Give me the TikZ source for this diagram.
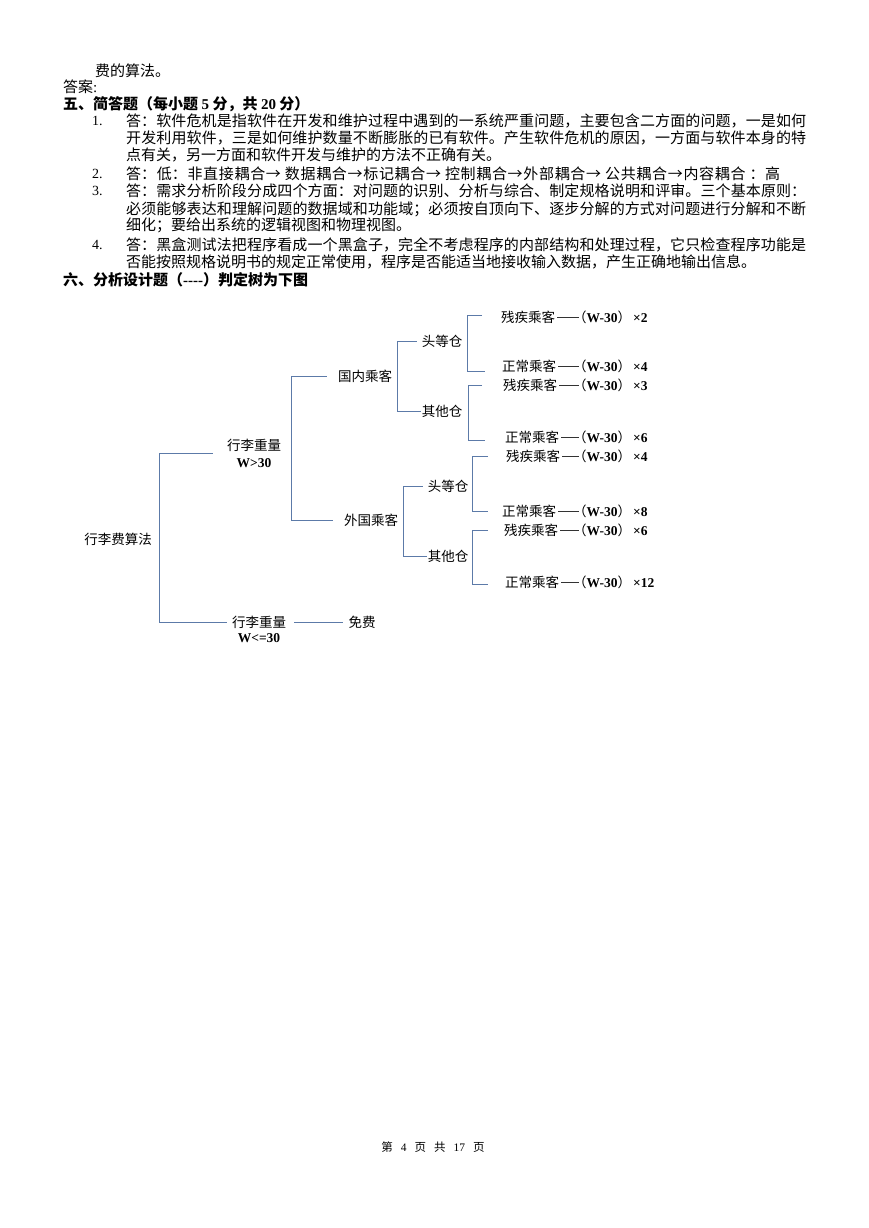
\documentclass[tikz,border=0pt]{standalone}
\usepackage{fontspec}
\setmainfont{Liberation Serif}
\newfontfamily\cjk{Noto Sans CJK SC}
\XeTeXlinebreaklocale "zh"
\XeTeXlinebreakskip=0pt plus 2pt
\definecolor{brc}{RGB}{92,122,168}
\newcommand\jl[1]{{\parfillskip=0pt\tolerance=10000 #1\par}}
\newcommand\resv[1]{（{\rmfamily\bfseries W-30}）\hspace{2pt}{\rmfamily\bfseries ×#1}}
\tikzset{
  body/.style={anchor=west,inner sep=0pt,font=\cjk\fontsize{15}{17}\selectfont},
  jline/.style={body,text width=680pt,align=justify},
  hd/.style={body,font=\cjk\bfseries\fontsize{15}{17}\selectfont},
  num/.style={anchor=west,inner sep=0pt,font=\rmfamily\fontsize{14}{17}\selectfont},
  dt/.style={inner sep=1pt,font=\cjk\fontsize{13.5}{17}\selectfont},
  lt/.style={dt,anchor=west},
  br/.style={draw=brc,line width=1pt},
  leafln/.style={draw=black!80,line width=0.7pt},
}
\begin{document}
\begin{tikzpicture}[x=1pt,y=-1pt]
\useasboundingbox (0,0) rectangle (869,1228);
% ---------- text ----------
\node[body] (t0) at (95,71) {费的算法。};
\node[body] (t1) at (63,87) {答案{\rmfamily :}};
\node[hd] (h5) at (63,104) {五、简答题（每小题 {\rmfamily 5} 分，共 {\rmfamily 20} 分）};
\node[num] (n1) at (92,121) {1.};
\node[jline] (a1a) at (126,121) {\jl{答：软件危机是指软件在开发和维护过程中遇到的一系统严重问题，主要包含二方面的问题，一是如何}};
\node[jline] (a1b) at (126,138) {\jl{开发利用软件，三是如何维护数量不断膨胀的已有软件。产生软件危机的原因，一方面与软件本身的特}};
\node[body] (a1c) at (126,155) {点有关，另一方面和软件开发与维护的方法不正确有关。};
\node[num] (n2) at (92,174) {2.};
\node[jline,text width=654pt] (a2a) at (126,174) {\jl{答：低：非直接耦合→ 数据耦合→标记耦合→ 控制耦合→外部耦合→ 公共耦合→内容耦合 ：高}};
\node[num] (n3) at (92,191) {3.};
\node[jline] (a3a) at (126,191) {\jl{答：需求分析阶段分成四个方面：对问题的识别、分析与综合、制定规格说明和评审。三个基本原则：}};
\node[jline] (a3b) at (126,209) {\jl{必须能够表达和理解问题的数据域和功能域；必须按自顶向下、逐步分解的方式对问题进行分解和不断}};
\node[body] (a3c) at (126,225) {细化；要给出系统的逻辑视图和物理视图。};
\node[num] (n4) at (92,245) {4.};
\node[jline] (a4a) at (126,245) {\jl{答：黑盒测试法把程序看成一个黑盒子，完全不考虑程序的内部结构和处理过程，它只检查程序功能是}};
\node[body] (a4b) at (126,262) {否能按照规格说明书的规定正常使用，程序是否能适当地接收输入数据，产生正确地输出信息。};
\node[hd] (h6) at (63,280) {六、分析设计题（{\rmfamily -{}-{}-{}-}）判定树为下图};
% ---------- tree ----------
\node[dt] (root) at (118,539) {行李费算法};
\node[dt,align=center] (wg) at (254,453) {行李重量\\{\rmfamily\bfseries W>30}};
\node[dt] (wl) at (259,622) {行李重量};
\node[dt,font=\rmfamily\bfseries\fontsize{13.5}{16}\selectfont] (wlv) at (259,638) {W<=30};
\node[dt] (free) at (362,622) {免费};
\node[dt] (dom) at (365,376) {国内乘客};
\node[dt] (fgn) at (371,520) {外国乘客};
\node[dt] (d1) at (442,341) {头等仓};
\node[dt] (d2) at (442,411) {其他仓};
\node[dt] (f1) at (448,486) {头等仓};
\node[dt] (f2) at (448,556) {其他仓};
\node[lt] (l1) at (500,317) {残疾乘客};
\node[lt] (l2) at (501,366) {正常乘客};
\node[lt] (l3) at (502,385) {残疾乘客};
\node[lt] (l4) at (504,437) {正常乘客};
\node[lt] (l5) at (505,456) {残疾乘客};
\node[lt] (l6) at (501,511) {正常乘客};
\node[lt] (l7) at (503,530) {残疾乘客};
\node[lt] (l8) at (504,582) {正常乘客};
\node[lt] (r1) at (572,317) {\resv{2}};
\node[lt] (r2) at (572,366) {\resv{4}};
\node[lt] (r3) at (572,385) {\resv{3}};
\node[lt] (r4) at (572,437) {\resv{6}};
\node[lt] (r5) at (572,456) {\resv{4}};
\node[lt] (r6) at (572,511) {\resv{8}};
\node[lt] (r7) at (572,530) {\resv{6}};
\node[lt] (r8) at (572,582) {\resv{12}};
\coordinate (b0) at (159,0);
\coordinate (b1) at (291,0);
\coordinate (b2) at (397,0);
\coordinate (b3) at (403,0);
\coordinate (b4) at (467,0);
\coordinate (b5) at (468,0);
\coordinate (b6) at (472,0);
\draw[br] ([xshift=-13pt]wg.west) -- (wg.west -| b0) -- (wl.west -| b0) -- ([xshift=-4pt]wl.west);
\draw[br] ([xshift=7pt]wl.east) -- ([xshift=-4pt]free.west);
\draw[br] ([xshift=-10pt]dom.west) -- (dom.west -| b1) -- (fgn.west -| b1) -- ([xshift=-10pt]fgn.west);
\draw[br] ([xshift=-4pt]d1.west) -- (d1.west -| b2) -- (d2.west -| b2) -- (d2.west);
\draw[br] ([xshift=-4pt]f1.west) -- (f1.west -| b3) -- (f2.west -| b3) -- (f2.west);
\draw[br] ([xshift=-18pt,yshift=2pt]l1.west) -- ([yshift=2pt]l1.west -| b4) -- ([yshift=-5pt]l2.west -| b4) -- ([xshift=-16pt,yshift=-5pt]l2.west);
\draw[br] ([xshift=-20pt]l3.west) -- (l3.west -| b5) -- ([yshift=-3pt]l4.west -| b5) -- ([xshift=-19pt,yshift=-3pt]l4.west);
\draw[br] ([xshift=-17pt]l5.west) -- (l5.west -| b6) -- (l6.west -| b6) -- ([xshift=-13pt]l6.west);
\draw[br] ([xshift=-15pt]l7.west) -- (l7.west -| b6) -- ([yshift=-2pt]l8.west -| b6) -- ([xshift=-16pt,yshift=-2pt]l8.west);
\foreach \i in {1,...,8}{\draw[leafln] ([xshift=1pt]l\i.east) -- ([xshift=7pt]r\i.west);}
% ---------- footer ----------
\node[inner sep=0pt,font=\cjk\fontsize{11.5}{13}\selectfont] (pg) at (433,1147) {第\hspace{8pt}{\rmfamily 4}\hspace{8pt}页\hspace{8pt}共\hspace{8pt}{\rmfamily 17}\hspace{8pt}页};
\end{tikzpicture}
\end{document}
